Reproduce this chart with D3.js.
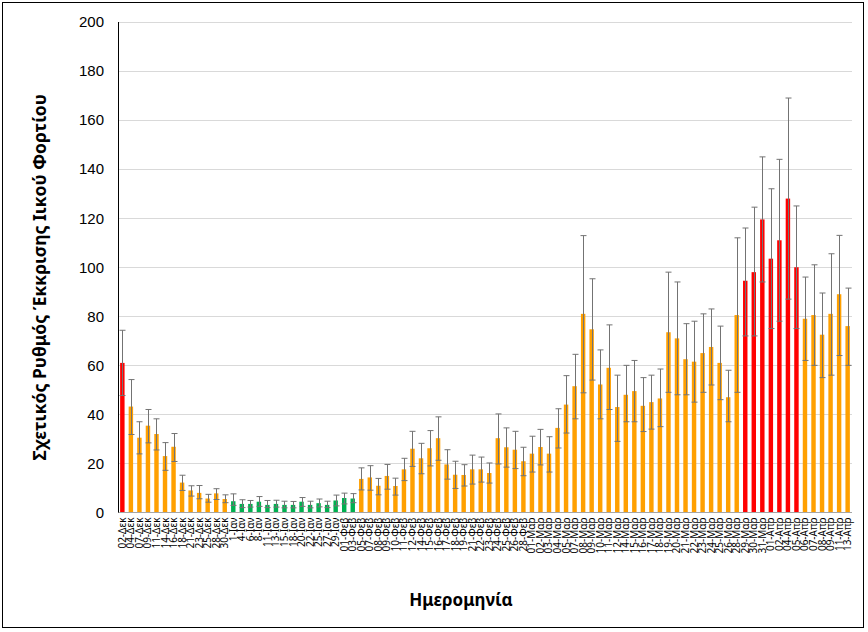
<!DOCTYPE html>
<html>
<head>
<meta charset="utf-8">
<script src="https://cdn.jsdelivr.net/npm/d3@7"></script>
<style>
  html, body { margin: 0; padding: 0; background: #fff; }
  svg { display: block; }
</style>
</head>
<body>
<div id="container"></div>
<script>
"use strict";

const dates = [
  "02-Δεκ", "04-Δεκ", "07-Δεκ", "09-Δεκ", "11-Δεκ", "14-Δεκ", "16-Δεκ", "18-Δεκ", "21-Δεκ", "23-Δεκ",
  "25-Δεκ", "28-Δεκ", "30-Δεκ",
  "1-Ιαν", "4-Ιαν", "6-Ιαν", "8-Ιαν", "11-Ιαν", "13-Ιαν", "15-Ιαν", "18-Ιαν", "20-Ιαν", "22-Ιαν",
  "25-Ιαν", "27-Ιαν", "29-Ιαν",
  "01-Φεβ", "03-Φεβ", "05-Φεβ", "07-Φεβ", "08-Φεβ", "09-Φεβ", "10-Φεβ", "11-Φεβ", "12-Φεβ", "14-Φεβ",
  "15-Φεβ", "16-Φεβ", "17-Φεβ", "18-Φεβ", "19-Φεβ", "21-Φεβ", "22-Φεβ", "23-Φεβ", "24-Φεβ", "25-Φεβ",
  "26-Φεβ", "28-Φεβ",
  "01-Μαρ", "02-Μαρ", "03-Μαρ", "04-Μαρ", "05-Μαρ", "07-Μαρ", "08-Μαρ", "09-Μαρ", "10-Μαρ", "11-Μαρ",
  "12-Μαρ", "14-Μαρ", "15-Μαρ", "16-Μαρ", "17-Μαρ", "18-Μαρ", "19-Μαρ", "20-Μαρ", "21-Μαρ", "22-Μαρ",
  "23-Μαρ", "24-Μαρ", "25-Μαρ", "26-Μαρ", "28-Μαρ", "29-Μαρ", "30-Μαρ", "31-Μαρ",
  "01-Απρ", "02-Απρ", "04-Απρ", "05-Απρ", "06-Απρ", "07-Απρ", "08-Απρ", "09-Απρ", "11-Απρ", "13-Απρ"
];

const values = [
  61, 43.2, 30.5, 35.4, 32, 23, 26.8, 12.2, 9, 8,
  5.7, 7.8, 5.5,
  4.6, 3.5, 3.5, 4.4, 3.1, 3.5, 3.1, 3.1, 4.4, 3.1,
  3.8, 3.1, 4.9,
  5.9, 5.7, 13.7, 14.3, 10.9, 14.9, 10.8, 17.6, 26, 22.1,
  26.2, 30.3, 19.6, 15.4, 15.3, 17.6, 17.6, 16.1, 30.3, 26.6,
  25.6, 20.9,
  24, 26.7, 24, 34.5, 44, 51.5, 81, 74.7, 52.2, 59,
  43, 48, 49.5, 43.5, 45, 46.5, 73.5, 71, 62.5, 61.5,
  65, 67.5, 61, 47, 80.5, 94.5, 98, 119.5,
  103.5, 111, 128, 100, 79, 80.5, 72.5, 81, 89, 76
];

const errHigh = [
  74.3, 54.2, 37, 42, 38.2, 28.5, 32.2, 15.2, 10.9, 11,
  7.4, 9.7, 7.2,
  7.6, 5.2, 4.9, 6.5, 4.9, 5, 4.6, 4.5, 6.1, 4.6,
  5.5, 4.6, 7.1,
  7.9, 7.7, 18.2, 19.1, 13.9, 19.6, 14, 22.1, 33.1, 28.2,
  33.4, 39, 25.6, 20.9, 19.5, 23.4, 22.6, 20.2, 40.2, 34.5,
  33.1, 26.6,
  31.1, 33.9, 30.9, 42.3, 55.8, 64.5, 112.9, 95.3, 66.3, 76.5,
  56, 60, 62, 55, 56, 58.5, 98, 94, 77, 78,
  81, 83, 76, 58, 112, 116, 124.5, 145,
  132, 144, 169, 125, 96, 101, 89.5, 105.5, 113, 91.5
];

const errLow = [
  47.7, 31.8, 23.9, 28.4, 25.5, 17.2, 20.8, 9, 6.7, 5.6,
  4.2, 5.3, 4,
  2.9, 2, 2.2, 2.5, 2, 2.2, 1.9, 1.9, 2.5, 1.9,
  2.3, 2, 2.7,
  3.5, 4, 9.2, 9.1, 7.2, 9.5, 7.1, 13, 18.8, 15.8,
  19, 21.3, 13.6, 9.8, 10.8, 11.6, 12.4, 12, 19.8, 18.5,
  17.9, 15,
  16.5, 19.4, 16.5, 26.3, 32.4, 38.2, 48.8, 54, 38.2, 42,
  29, 37, 37, 33, 34, 35, 49, 48, 48, 45,
  49, 52, 46, 37, 49, 72, 72, 94,
  75, 78, 87, 75, 62, 60, 55, 56, 64, 60
];

// r = red, o = orange, g = green
const levels = [
  "r", "o", "o", "o", "o", "o", "o", "o", "o", "o", "o", "o", "o",
  "g", "g", "g", "g", "g", "g", "g", "g", "g", "g", "g", "g", "g",
  "g", "g", "o", "o", "o", "o", "o", "o", "o", "o", "o", "o", "o", "o",
  "o", "o", "o", "o", "o", "o", "o", "o",
  "o", "o", "o", "o", "o", "o", "o", "o", "o", "o", "o", "o", "o", "o",
  "o", "o", "o", "o", "o", "o", "o", "o", "o", "o", "o", "r", "r", "r",
  "r", "r", "r", "r", "o", "o", "o", "o", "o", "o"
];

const yTicks = [0, 20, 40, 60, 80, 100, 120, 140, 160, 180, 200];

const levelColor = { r: "#ff0000", o: "#ffa000", g: "#00b050" };

const width = 868;
const height = 632;
const margin = { top: 22, right: 16, bottom: 119.5, left: 118 };

const data = dates.map((d, i) => ({
  key: d,
  value: values[i],
  hi: errHigh[i],
  lo: errLow[i],
  level: levels[i]
}));

const x = d3
  .scaleBand()
  .domain(dates)
  .range([margin.left, width - margin.right])
  .paddingInner(0.48)
  .paddingOuter(0.25);

const y = d3
  .scaleLinear()
  .domain([0, 200])
  .range([height - margin.bottom, margin.top]);

const svg = d3
  .create("svg")
  .attr("width", width)
  .attr("height", height)
  .style("font-family", "'Noto Sans', 'Open Sans', sans-serif");

// Outer frame.
svg
  .append("rect")
  .attr("x", 2.5)
  .attr("y", 2.5)
  .attr("width", width - 7)
  .attr("height", height - 7)
  .attr("fill", "#fff")
  .attr("stroke", "#000")
  .attr("stroke-width", 1);

// Gridlines.
svg
  .append("g")
  .selectAll("line")
  .data(yTicks.filter((t) => t > 0))
  .enter()
  .append("line")
  .attr("x1", margin.left)
  .attr("x2", width - margin.right)
  .attr("y1", (d) => Math.round(y(d)) + 0.5)
  .attr("y2", (d) => Math.round(y(d)) + 0.5)
  .attr("stroke", "#d9d9d9")
  .attr("stroke-width", 1);

// Y axis.
const yAxis = svg
  .append("g")
  .attr("transform", `translate(${margin.left}, 0)`)
  .call(d3.axisLeft(y).tickValues(yTicks).tickSize(0).tickPadding(14));
yAxis.select(".domain").remove();
yAxis.selectAll("text").style("font-size", "15px").attr("fill", "#000");

// Draw bars.
svg
  .append("g")
  .selectAll("rect")
  .data(data)
  .enter()
  .append("rect")
  .attr("x", (d) => x(d.key))
  .attr("y", (d) => y(d.value))
  .attr("width", x.bandwidth())
  .attr("height", (d) => y(0) - y(d.value))
  .attr("fill", (d) => levelColor[d.level]);

// Error bars.
const cap = 3;
const err = svg
  .append("g")
  .attr("stroke", "#737373")
  .attr("stroke-width", 1)
  .selectAll("g")
  .data(data)
  .enter()
  .append("g")
  .attr("transform", (d) => `translate(${Math.round(x(d.key) + x.bandwidth() / 2) + 0.5}, 0)`);
err
  .append("line")
  .attr("y1", (d) => y(d.lo))
  .attr("y2", (d) => y(d.hi));
err
  .append("line")
  .attr("x1", -cap)
  .attr("x2", cap)
  .attr("y1", (d) => y(d.hi))
  .attr("y2", (d) => y(d.hi));
err
  .append("line")
  .attr("x1", -cap)
  .attr("x2", cap)
  .attr("y1", (d) => y(d.lo))
  .attr("y2", (d) => y(d.lo));

// Axis lines.
svg
  .append("line")
  .attr("x1", margin.left)
  .attr("x2", width - margin.right)
  .attr("y1", y(0))
  .attr("y2", y(0))
  .attr("stroke", "#a6a6a6")
  .attr("stroke-width", 1.2);
svg
  .append("line")
  .attr("x1", margin.left + 0.5)
  .attr("x2", margin.left + 0.5)
  .attr("y1", margin.top)
  .attr("y2", y(0))
  .attr("stroke", "#000")
  .attr("stroke-width", 1);

// X labels, rotated.
svg
  .append("g")
  .selectAll("text")
  .data(data)
  .enter()
  .append("text")
  .attr(
    "transform",
    (d) => `translate(${x(d.key) + x.bandwidth() / 2 + 3.5}, ${y(0) + 5}) rotate(-90)`
  )
  .attr("text-anchor", "end")
  .style("font-size", "10px")
  .attr("fill", "#000")
  .text((d) => d.key);

// Axis titles.
svg
  .append("text")
  .attr("transform", `translate(46, ${(margin.top + y(0)) / 2 + 10}) rotate(-90)`)
  .attr("text-anchor", "middle")
  .style("font-size", "17.5px")
  .style("font-weight", "bold")
  .text("Σχετικός Ρυθμός Έκκρισης Ιικού Φορτίου");

svg
  .append("text")
  .attr("x", 461)
  .attr("y", 606)
  .attr("text-anchor", "middle")
  .style("font-size", "17px")
  .style("font-weight", "bold")
  .text("Ημερομηνία");

document.getElementById("container").append(svg.node());
</script>
</body>
</html>
